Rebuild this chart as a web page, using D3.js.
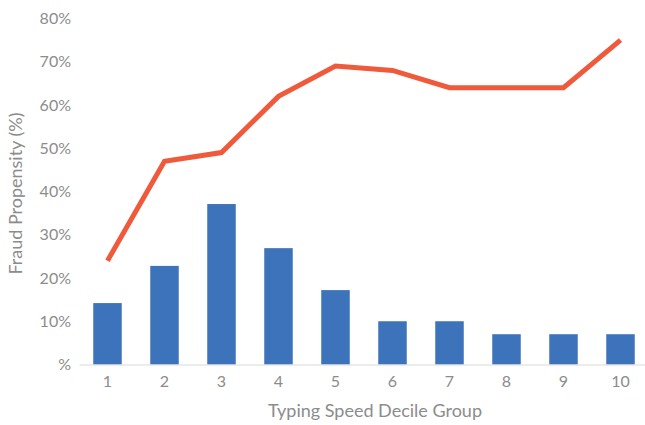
<!DOCTYPE html>
<html>
<head>
<meta charset="utf-8">
<script src="https://cdn.jsdelivr.net/npm/d3@7"></script>
<style>
  html, body { margin: 0; padding: 0; background: #fff; }
  svg { display: block; }
  text { font-family: Lato, "Open Sans", sans-serif; fill: #8c8c8c; }
</style>
</head>
<body>
<svg id="chart" width="645" height="425"></svg>
<script>
// Decile groups of typing speed
const groups = ["1", "2", "3", "4", "5", "6", "7", "8", "9", "10"];
// Share of sessions per decile (bars, %)
const barValues = [14.2, 22.8, 37.1, 26.9, 17.2, 10, 10, 7, 7, 7];
// Fraud propensity per decile (line, %)
const lineValues = [24, 47, 49, 62, 69, 68, 64, 64, 64, 75];
// Y-axis ticks (%); zero is shown as "%" as in the source number format
const yTicks = [0, 10, 20, 30, 40, 50, 60, 70, 80];
const yTickLabels = ["%", "10%", "20%", "30%", "40%", "50%", "60%", "70%", "80%"];

const svg = d3.select("#chart");
const plot = { left: 79, right: 649, top: 18.5, bottom: 364.5 };

const x = d3.scaleBand().domain(groups).range([plot.left, plot.right])
  .paddingInner(0.5).paddingOuter(0.25);
const y = d3.scaleLinear().domain([0, 80]).range([plot.bottom, plot.top]);

// Y tick labels
const yAxis = d3.axisLeft(y).tickValues(yTicks)
  .tickFormat((d, i) => yTickLabels[i]).tickSize(0).tickPadding(8);
const gy = svg.append("g").attr("transform", `translate(${plot.left},0)`).call(yAxis);
gy.select(".domain").remove();
gy.selectAll("text").style("font-size", "16px").attr("fill", "#8c8c8c")
  .style("font-family", "Lato, 'Open Sans', sans-serif");

// Bars
svg.append("g").selectAll("rect").data(barValues).join("rect")
  .attr("x", (d, i) => x(groups[i]))
  .attr("width", x.bandwidth())
  .attr("y", d => y(d))
  .attr("height", d => y(0) - y(d))
  .attr("fill", "#3c73ba");

// X axis
const xAxis = d3.axisBottom(x).tickSize(0).tickPadding(11);
const gx = svg.append("g").attr("transform", `translate(0,${plot.bottom})`).call(xAxis);
gx.select(".domain").attr("stroke", "#d9d9d9").attr("stroke-width", 1.2);
gx.selectAll("text").style("font-size", "16px").attr("fill", "#8c8c8c")
  .style("font-family", "Lato, 'Open Sans', sans-serif");

// Line
const line = d3.line()
  .x((d, i) => x(groups[i]) + x.bandwidth() / 2)
  .y(d => y(d));
svg.append("path").datum(lineValues)
  .attr("d", line)
  .attr("fill", "none")
  .attr("stroke", "#f05a3c")
  .attr("stroke-width", 5)
  .attr("stroke-linejoin", "miter");

// Axis titles
svg.append("text")
  .attr("x", 375).attr("y", 417)
  .attr("text-anchor", "middle")
  .style("font-size", "18px")
  .text("Typing Speed Decile Group");

svg.append("text")
  .attr("transform", `translate(22,${(plot.top + plot.bottom) / 2 + 2}) rotate(-90)`)
  .attr("text-anchor", "middle")
  .style("font-size", "18px")
  .text("Fraud Propensity (%)");
</script>
</body>
</html>
